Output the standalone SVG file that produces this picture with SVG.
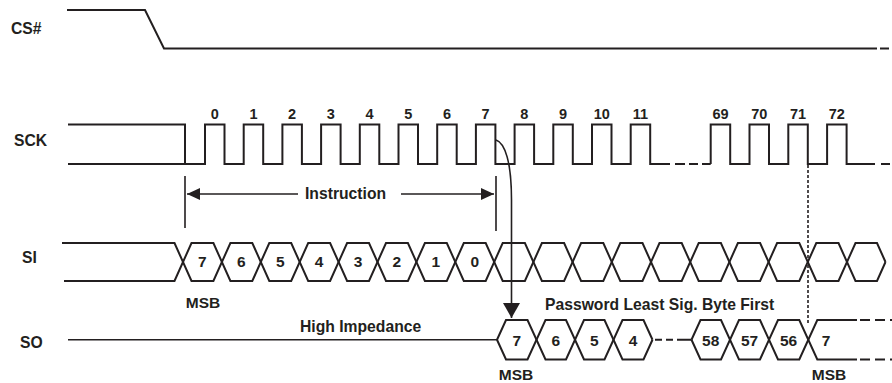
<svg xmlns="http://www.w3.org/2000/svg" width="892" height="383" viewBox="0 0 892 383">
<defs>
<style>
.sig{fill:none;stroke:#231f20;stroke-width:2;stroke-linejoin:miter}
.thin{fill:none;stroke:#231f20;stroke-width:1.6}
.dot{fill:none;stroke:#231f20;stroke-width:1.6;stroke-dasharray:3 2}
.lbl{font-family:"Liberation Sans",Arial,sans-serif;font-weight:bold;font-size:15.7px;fill:#231f20}
.num{font-family:"Liberation Sans",Arial,sans-serif;font-weight:bold;font-size:14.5px;fill:#231f20;text-anchor:middle}
.hx{font-family:"Liberation Sans",Arial,sans-serif;font-weight:bold;font-size:15.5px;fill:#231f20;text-anchor:middle}
</style>
<marker id="ah" viewBox="0 0 13 12" refX="13" refY="6" markerWidth="13" markerHeight="12" markerUnits="userSpaceOnUse" orient="auto"><path d="M0,0 L13,6 L0,12 z" fill="#231f20"/></marker>
<marker id="ahb" viewBox="0 0 15 17" refX="15" refY="8.5" markerWidth="15" markerHeight="17" markerUnits="userSpaceOnUse" orient="auto"><path d="M0,0 L15,8.5 L0,17 z" fill="#231f20"/></marker>
</defs>
<rect width="892" height="383" fill="#fff"/>

<g id="cs">
<text class="lbl" x="11" y="34">CS#</text>
<path class="sig" d="M67,10 H145 L164,48.5 H868"/>
<path class="sig" d="M868,48.5 H892" style="stroke-dasharray:9 3"/>
</g>

<g id="sck">
<text class="lbl" x="14" y="146">SCK</text>
<path class="sig" d="M68,124.5 H185 V164"/>
<path class="sig" d="M68,164 H205 V124.5 H224.5 V164 H243.7 V124.5 H263.2 V164 H282.4 V124.5 H301.9 V164 H321.1 V124.5 H340.6 V164 H359.8 V124.5 H379.3 V164 H398.5 V124.5 H418 V164 H437.2 V124.5 H456.7 V164 H475.9 V124.5 H495.4 V164 H514.6 V124.5 H534.1 V164 H553.3 V124.5 H572.8 V164 H592 V124.5 H611.5 V164 H630.7 V124.5 H650.2 V164 H670"/>
<path class="sig" d="M675,164 H685 M689,164 H698 M702,164 H710.7"/>
<path class="sig" d="M710.7,164 V124.5 H730.2 V164 H749.5 V124.5 H769 V164 H788.3 V124.5 H807.8 V164 H827.1 V124.5 H846.6 V164 H866"/>
<path class="sig" d="M866,164 H892" style="stroke-dasharray:9 6"/>
<text class="num" x="214.75" y="119">0</text>
<text class="num" x="253.45" y="119">1</text>
<text class="num" x="292.15" y="119">2</text>
<text class="num" x="330.85" y="119">3</text>
<text class="num" x="369.55" y="119">4</text>
<text class="num" x="408.25" y="119">5</text>
<text class="num" x="446.95" y="119">6</text>
<text class="num" x="485.65" y="119">7</text>
<text class="num" x="524.35" y="119">8</text>
<text class="num" x="563.05" y="119">9</text>
<text class="num" x="601.75" y="119">10</text>
<text class="num" x="640.45" y="119">11</text>
<text class="num" x="720.45" y="119">69</text>
<text class="num" x="759.25" y="119">70</text>
<text class="num" x="798.05" y="119">71</text>
<text class="num" x="836.85" y="119">72</text>
</g>

<g id="si">
<text class="lbl" x="22" y="263">SI</text>
<path class="sig" d="M62,243 H174.5 L191.5,281 H213.4 L230.4,243 H252.3 L269.3,281 H291.2 L308.2,243 H330.1 L347.1,281 H369 L386,243 H407.9 L424.9,281 H446.8 L463.8,243 H485.7 L502.7,281 H524.9 L541.9,243 H564.1 L581.1,281 H603.3 L620.3,243 H642.5 L659.5,281 H681.7 L698.7,243 H720.9 L737.9,281 H760.1 L777.1,243 H799.3 L816.3,281 H838.5 L855.5,243 H877 L885.5,262"/>
<path class="sig" d="M64,281 H174.5 L191.5,243 H213.4 L230.4,281 H252.3 L269.3,243 H291.2 L308.2,281 H330.1 L347.1,243 H369 L386,281 H407.9 L424.9,243 H446.8 L463.8,281 H485.7 L502.7,243 H524.9 L541.9,281 H564.1 L581.1,243 H603.3 L620.3,281 H642.5 L659.5,243 H681.7 L698.7,281 H720.9 L737.9,243 H760.1 L777.1,281 H799.3 L816.3,243 H838.5 L855.5,281 H877 L885.5,262"/>
<text class="hx" x="202.4" y="266.5">7</text>
<text class="hx" x="241.3" y="266.5">6</text>
<text class="hx" x="280.2" y="266.5">5</text>
<text class="hx" x="319.1" y="266.5">4</text>
<text class="hx" x="358" y="266.5">3</text>
<text class="hx" x="396.9" y="266.5">2</text>
<text class="hx" x="435.8" y="266.5">1</text>
<text class="hx" x="474.7" y="266.5">0</text>
<text class="hx" x="203" y="307.5">MSB</text>
</g>

<g id="so">
<text class="lbl" x="20" y="348">SO</text>
<path class="thin" d="M68,339.75 H497"/>
<path class="sig" d="M497,339.75 L506,320 H527.5 L545.5,359.5 H566 L584,320 H604.5 L622.5,359.5 H643.5 L652.5,339.75"/>
<path class="sig" d="M497,339.75 L506,359.5 H527.5 L545.5,320 H566 L584,359.5 H604.5 L622.5,320 H643.5 L652.5,339.75"/>
<path class="sig" d="M655,339.75 H662 M666,339.75 H673 M677,339.75 H691.5"/>
<path class="sig" d="M691.5,339.75 L700.5,320 H721 L739,359.5 H760 L778,320 H799.3 L817.3,359.5 H857"/>
<path class="sig" d="M691.5,339.75 L700.5,359.5 H721 L739,320 H760 L778,359.5 H799.3 L817.3,320 H857"/>
<path class="sig" d="M857,320 H892 M857,359.5 H892" style="stroke-dasharray:10 5;stroke-dashoffset:12"/>
<text class="hx" x="516.7" y="345.5">7</text>
<text class="hx" x="555.7" y="345.5">6</text>
<text class="hx" x="594.2" y="345.5">5</text>
<text class="hx" x="633" y="345.5">4</text>
<text class="hx" x="710.7" y="345.5">58</text>
<text class="hx" x="749.5" y="345.5">57</text>
<text class="hx" x="788.6" y="345.5">56</text>
<text class="hx" x="826" y="345.5">7</text>
<text class="hx" x="516" y="379.5">MSB</text>
<text class="hx" x="829" y="380">MSB</text>
<text class="lbl" x="300" y="332">High Impedance</text>
<text class="lbl" x="545" y="310">Password Least Sig. Byte First</text>
</g>

<g id="connectors">
<path class="thin" d="M185,176 V228 M496,176 V231"/>
<path class="thin" d="M298,194 H187" marker-end="url(#ah)"/>
<path class="thin" d="M401,194 H494" marker-end="url(#ah)"/>
<text class="lbl" x="305" y="198.5">Instruction</text>
<path class="thin" d="M496,140 C505,143 511.5,162 511.5,200 V318" marker-end="url(#ahb)"/>
<path class="dot" d="M808,165 V323"/>
</g>
</svg>
